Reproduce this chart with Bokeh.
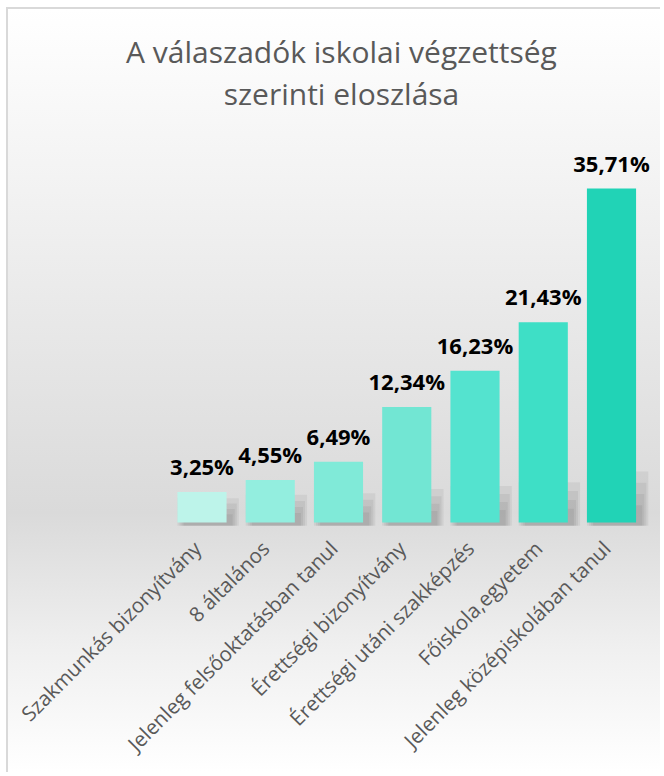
import math
from bokeh.plotting import figure
from bokeh.models import Range1d, Label
from bokeh.core.properties import value
from bokeh.embed import file_html
from bokeh.resources import INLINE

categories = [
    "Szakmunkás bizonyítvány",
    "8 általános",
    "Jelenleg felsőoktatásban tanul",
    "Érettségi bizonyítvány",
    "Érettségi utáni szakképzés",
    "Főiskola,egyetem",
    "Jelenleg középiskolában tanul",
]
percentages = [3.25, 4.55, 6.49, 12.34, 16.23, 21.43, 35.71]
bar_colors = ["#bdf4ea", "#93eedf", "#80ead8", "#72e6d3", "#54e3cf", "#3edfc6", "#21d3b6"]
title_lines = ["A válaszadók iskolai végzettség", "szerinti eloszlása"]

W, H = 654, 765
px_per_unit_y = 9.35
px_per_cat = 68.25
base_from_top = 513
first_center_px = 193.5

x0 = -first_center_px / px_per_cat
y0 = -(H - base_from_top) / px_per_unit_y

p = figure(
    width=W, height=H,
    x_range=Range1d(x0, x0 + W / px_per_cat),
    y_range=Range1d(y0, y0 + H / px_per_unit_y),
    x_axis_type=None, y_axis_type=None,
    output_backend="svg", toolbar_location=None,
    min_border=0,
)
p.grid.visible = False
p.outline_line_color = None
p.background_fill_color = None
p.border_fill_color = None
p.styles = {
    "margin-left": "6px",
    "margin-top": "7px",
    "background-image": "linear-gradient(to bottom, #ffffff 0%, #f3f3f3 22%, #dadada 66%, #f0f0f0 84%, #ffffff 100%)",
    "border-left": "2px solid #d9d9d9",
    "border-top": "2px solid #d9d9d9",
}

idx = list(range(len(categories)))
labels = [f"{v:.2f}".replace(".", ",") + "%" for v in percentages]

# soft drop shadows (bottom-right)
for k in range(4):
    caps = [min(v * 0.8, 2.6 + v * 0.08) * (1 - 0.22 * k) for v in percentages]
    p.vbar(x=[i + 0.09 for i in idx], top=caps, bottom=-0.35,
           width=0.72 + 0.06 * (3 - k), fill_color="black", fill_alpha=0.055, line_color=None)

p.vbar(x=idx, top=percentages, bottom=0, width=0.72, fill_color=bar_colors, line_color=None)

p.text(x=idx, y=percentages, text=labels, text_align="center", text_baseline="alphabetic",
       y_offset=-26, text_font=value("Open Sans"), text_font_style="bold",
       text_font_size="22px", text_color="#000000")

p.text(x=idx, y=[0] * len(idx), text=categories, angle=math.pi / 4,
       text_align="right", text_baseline="middle", x_offset=-5, y_offset=22,
       text_font=value("Open Sans"), text_font_size="20.5px", text_color="#595959")

for line, top_px in zip(title_lines, [42, 84]):
    p.add_layout(Label(x=333, y=H - top_px, x_units="screen", y_units="screen", text=line,
                       text_align="center", text_baseline="alphabetic",
                       text_font="Open Sans", text_font_size="30px", text_color="#595959"))

open("out.html", "w").write(file_html(p, INLINE))
